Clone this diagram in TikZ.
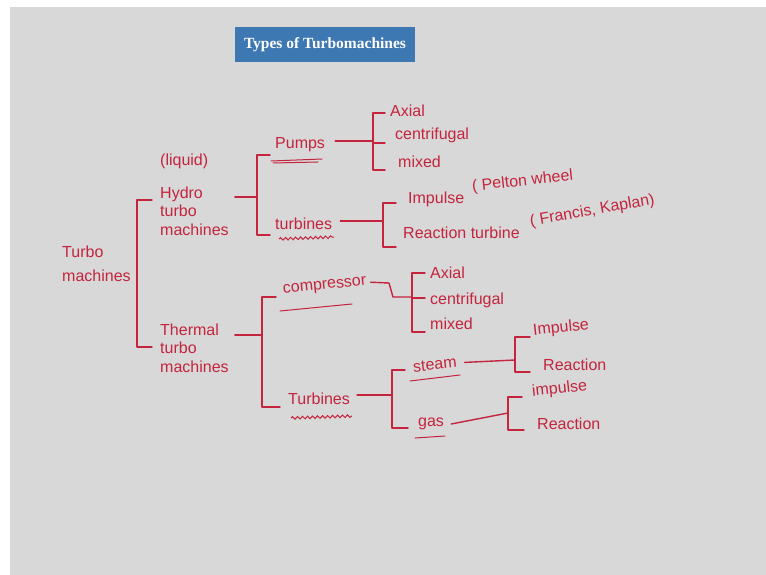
\documentclass[tikz,border=0pt]{standalone}
\usepackage{fontspec}
\setmainfont{Liberation Serif}
\setsansfont{Liberation Sans}
\usetikzlibrary{decorations.pathmorphing}
\definecolor{ink}{RGB}{196,36,60}
\definecolor{slide}{RGB}{216,216,216}
\definecolor{titlebox}{RGB}{62,120,178}
\tikzset{
  hw/.style={text=ink, font=\sffamily\fontsize{16}{18.5}\selectfont, anchor=west, inner sep=0pt, align=left},
  pen/.style={draw=ink, line width=1.4pt, line cap=round, line join=round},
  wavy/.style={draw=ink, line width=1pt, decorate, decoration={snake, amplitude=1.3pt, segment length=5pt}},
}
\begin{document}
\begin{tikzpicture}[x=1pt,y=-1pt]

\useasboundingbox (0,0) rectangle (766,575);
\fill[white] (0,0) rectangle (766,575);
\fill[slide] (10,7) rectangle (766,575);

\node[fill=titlebox, text=white, font=\bfseries\fontsize{15.5}{17}\selectfont, minimum width=180pt, minimum height=35pt] (title) at (325,45) {Types of Turbomachines};

% level 1
\node[hw] (turbo) at (62,264) {Turbo\\[5pt]machines};
\node[hw] (liquid) at (160,161) {(liquid)};
\node[hw] (hydro) at (160,211) {Hydro\\turbo\\machines};
\node[hw] (thermal) at (160,348) {Thermal\\turbo\\machines};

% hydro branch
\node[hw] (pumps) at (275,145) {Pumps};
\node[hw] (turbH) at (275,224) {turbines};
\node[hw] (axH) at (390,111) {Axial};
\node[hw] (cenH) at (395,135) {centrifugal};
\node[hw] (mixH) at (398,162) {mixed};
\node[hw] (impH) at (408,199) {Impulse};
\node[hw, rotate=6] (pelton) at (472,187) {( Pelton wheel};
\node[hw] (reaH) at (403,233) {Reaction turbine};
\node[hw, rotate=10] (francis) at (530,222) {( Francis, Kaplan)};

% thermal branch
\node[hw, rotate=6] (comp) at (283,291) {compressor};
\node[hw] (axT) at (430,273) {Axial};
\node[hw] (cenT) at (430,300) {centrifugal};
\node[hw] (mixT) at (430,324) {mixed};
\node[hw] (turbT) at (288,399) {Turbines};
\node[hw, rotate=6] (steam) at (413,367) {steam};
\node[hw] (gas) at (418,424) {gas};
\node[hw, rotate=6] (impS) at (533,331) {Impulse};
\node[hw] (reaS) at (543,365) {Reaction};
\node[hw, rotate=6] (impG) at (532,392) {impulse};
\node[hw] (reaG) at (537,424) {Reaction};

% brackets
\draw[pen] (152,200) -- (137,200) -- (137,347) -- (152,347);
\draw[pen] (270,155) -- (257,155) -- (257,235) -- (270,235);
\draw[pen] (385,113) -- (373,113) -- (373,170) -- (385,170);
\draw[pen] (373,143) -- (385,143);
\draw[pen] (396,203) -- (383,203) -- (383,247) -- (396,247);
\draw[pen] (276,297) -- (262,297) -- (262,407) -- (280,407);
\draw[pen] (425,273) -- (412,273) -- (412,332) -- (425,332);
\draw[pen] (412,298) -- (425,298);
\draw[pen] (405,370) -- (392,370) -- (392,428) -- (408,428);
\draw[pen] (530,337) -- (515,337) -- (515,372) -- (530,372);
\draw[pen] (522,397) -- (508,397) -- (508,430) -- (524,430);

% joints
\coordinate (b2) at (257,197);
\coordinate (b3) at (373,141);
\coordinate (b4) at (383,221);
\coordinate (b5) at (262,335);
\coordinate (b6) at (412,297);
\coordinate (b7) at (392,395);
\coordinate (b8) at (515,360);
\coordinate (b9) at (508,413);

% connectors
\draw[pen] ([xshift=6pt]hydro.east |- b2) -- (b2);
\draw[pen] ([xshift=10pt]pumps.east |- b3) -- (b3);
\draw[pen] ([xshift=8pt]turbH.east |- b4) -- (b4);
\draw[pen] ([xshift=6pt]thermal.east |- b5) -- (b5);
\draw[pen] ([xshift=4pt]comp.east) -- (389,283) -- (393,297) -- (b6);
\draw[pen] ([xshift=7pt]turbT.east |- b7) -- (b7);
\draw[pen] ([xshift=8pt]steam.east) -- (b8);
\draw[pen] ([xshift=7pt]gas.east) -- (b9);

% underlines
\draw[pen, line width=1pt] (271,161) -- (322,159);
\draw[pen, line width=1pt] (273,163) -- (318,162);
\draw[wavy] (279,239) -- (334,237);
\draw[pen, line width=1pt] (280,311) -- (352,304);
\draw[wavy] (291,418) -- (352,416);
\draw[pen, line width=1pt] (410,381) -- (460,375);
\draw[pen, line width=1pt] (415,438) -- (445,436);

\end{tikzpicture}
\end{document}
